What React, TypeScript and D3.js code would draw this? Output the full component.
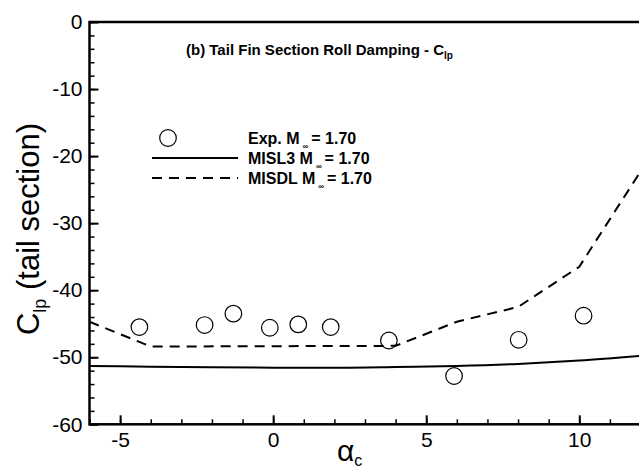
import React, { useEffect, useRef } from "react";
import * as d3 from "d3";

// experimental points (alpha_c, Clp)
const expAlpha = [-4.37, -2.24, -1.3, -0.11, 0.82, 1.88, 3.78, 5.91, 8.02, 10.14];
const expClp = [-45.5, -45.2, -43.5, -45.6, -45.1, -45.5, -47.5, -52.8, -47.4, -43.8];

// MISL3 prediction (solid)
const misl3Alpha = [-6, -4, -2, 0, 2, 4, 6, 8, 10, 12];
const misl3Clp = [-51.3, -51.4, -51.5, -51.55, -51.55, -51.45, -51.3, -51.0, -50.5, -49.8];

// MISDL prediction (dashed)
const misdlAlpha = [-6, -4, 4, 6, 8, 10, 12];
const misdlClp = [-44.7, -48.4, -48.3, -44.7, -42.5, -36.5, -22.3];

const xTicks = [-5, 0, 5, 10];
const yTicks = [0, -10, -20, -30, -40, -50, -60];

const FONT = "Arial, 'Liberation Sans', sans-serif";

export default function App() {
  const ref = useRef<SVGSVGElement>(null);

  useEffect(() => {
    const svg = d3.select(ref.current);
    svg.selectAll("*").remove();

    const x = d3.scaleLinear().domain([-6, 12]).range([89.5, 640.5]);
    const y = d3.scaleLinear().domain([-60, 0]).range([424.3, 22]);
    const h = y(-60);

    // minor ticks
    svg.append("g")
      .attr("transform", `translate(0,${h})`)
      .call(d3.axisBottom(x).tickValues(d3.range(-6, 13, 1)).tickSize(-5).tickFormat(() => ""))
      .call(g => g.select(".domain").remove())
      .selectAll("line").attr("stroke", "#000").attr("stroke-width", 1.5);
    svg.append("g")
      .attr("transform", `translate(${x(-6)},0)`)
      .call(d3.axisLeft(y).tickValues(d3.range(-60, 1, 2)).tickSize(-5).tickFormat(() => ""))
      .call(g => g.select(".domain").remove())
      .selectAll("line").attr("stroke", "#000").attr("stroke-width", 1.5);

    // major ticks with labels (plain hyphen for minus)
    const fmt = (d: any) => String(d);
    const xg = svg.append("g")
      .attr("transform", `translate(0,${h})`)
      .call(d3.axisBottom(x).tickValues(xTicks).tickSize(-9).tickPadding(8).tickFormat(fmt));
    xg.select(".domain").remove();
    xg.selectAll("line").attr("stroke", "#000").attr("stroke-width", 2);
    xg.selectAll("text").attr("font-family", FONT).attr("font-size", 21).attr("fill", "#000");

    const yg = svg.append("g")
      .attr("transform", `translate(${x(-6)},0)`)
      .call(d3.axisLeft(y).tickValues(yTicks).tickSize(-9).tickPadding(7).tickFormat(fmt));
    yg.select(".domain").remove();
    yg.selectAll("line").attr("stroke", "#000").attr("stroke-width", 2);
    yg.selectAll("text").attr("font-family", FONT).attr("font-size", 21).attr("fill", "#000");

    // frame
    svg.append("rect")
      .attr("x", x(-6)).attr("y", y(0))
      .attr("width", x(12) - x(-6)).attr("height", y(-60) - y(0))
      .attr("fill", "none").attr("stroke", "#000").attr("stroke-width", 2.5);

    // lines
    svg.append("path")
      .datum(misl3Alpha.map((a, i) => [a, misl3Clp[i]] as [number, number]))
      .attr("d", d3.line<[number, number]>().x(d => x(d[0])).y(d => y(d[1])).curve(d3.curveMonotoneX))
      .attr("fill", "none").attr("stroke", "#000").attr("stroke-width", 2);
    svg.append("path")
      .datum(misdlAlpha.map((a, i) => [a, misdlClp[i]] as [number, number]))
      .attr("d", d3.line<[number, number]>().x(d => x(d[0])).y(d => y(d[1])))
      .attr("fill", "none").attr("stroke", "#000").attr("stroke-width", 2)
      .attr("stroke-dasharray", "10,7");

    // experimental circles
    svg.selectAll(".exp")
      .data(expAlpha.map((a, i) => [a, expClp[i]]))
      .join("circle")
      .attr("class", "exp")
      .attr("cx", d => x(d[0])).attr("cy", d => y(d[1]))
      .attr("r", 8.3)
      .attr("fill", "none").attr("stroke", "#000").attr("stroke-width", 1.2);

    // title
    const title = svg.append("text")
      .attr("x", 186).attr("y", 55)
      .attr("font-family", FONT).attr("font-size", 15).attr("font-weight", "bold");
    title.append("tspan").text("(b) Tail Fin Section Roll Damping - C");
    title.append("tspan").attr("font-size", 10).attr("dy", 4).text("lp");

    // legend
    const legendLabels = ["Exp.  M", "MISL3 M", "MISDL M"];
    const ly = [138, 158, 178];
    svg.append("circle")
      .attr("cx", 168).attr("cy", ly[0]).attr("r", 8.3)
      .attr("fill", "none").attr("stroke", "#000").attr("stroke-width", 1.2);
    svg.append("line")
      .attr("x1", 152).attr("x2", 238).attr("y1", ly[1]).attr("y2", ly[1])
      .attr("stroke", "#000").attr("stroke-width", 2);
    svg.append("line")
      .attr("x1", 152).attr("x2", 238).attr("y1", ly[2]).attr("y2", ly[2])
      .attr("stroke", "#000").attr("stroke-width", 2).attr("stroke-dasharray", "10,7");
    legendLabels.forEach((lab, i) => {
      const t = svg.append("text")
        .attr("x", 248).attr("y", ly[i] + 6)
        .attr("font-family", FONT).attr("font-size", 16).attr("font-weight", "bold");
      t.append("tspan").text(lab);
      t.append("tspan").attr("font-size", 8).attr("dx", 3).attr("dy", 5).text("∞");
      t.append("tspan").attr("dx", 3).attr("dy", -5).text("= 1.70");
    });

    // axis labels
    const yl = svg.append("text")
      .attr("transform", "translate(39,229) rotate(-90)")
      .attr("text-anchor", "middle")
      .attr("font-family", FONT).attr("font-size", 31);
    yl.append("tspan").text("C");
    yl.append("tspan").attr("font-size", 18).attr("dy", 7).text("lp");
    yl.append("tspan").attr("dy", -7).text(" (tail section)");

    const xl = svg.append("text")
      .attr("x", 337).attr("y", 461)
      .attr("font-family", FONT).attr("font-size", 30);
    xl.append("tspan").text("α");
    xl.append("tspan").attr("font-size", 16).attr("dy", 5).text("c");
  }, []);

  return (
    <svg ref={ref} width={639} height={472}
      style={{ position: "absolute", left: 0, top: 0, background: "#fff" }} />
  );
}
